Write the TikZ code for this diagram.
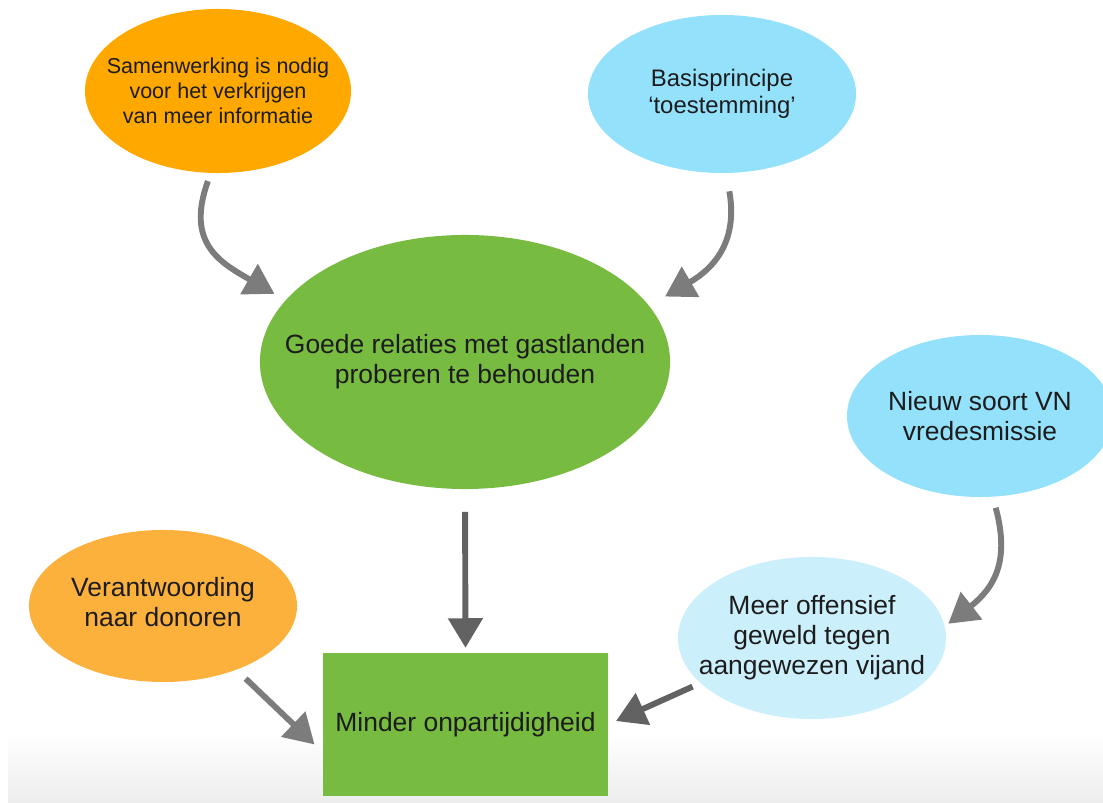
\documentclass[tikz,border=0pt]{standalone}
\usepackage{fontspec}
\setmainfont{Liberation Sans}
\usetikzlibrary{arrows.meta, shapes.geometric}

\definecolor{oranje}{RGB}{255,168,0}
\definecolor{lichtoranje}{RGB}{253,177,61}
\definecolor{blauw}{RGB}{148,225,252}
\definecolor{lichtblauw}{RGB}{204,239,252}
\definecolor{groen}{RGB}{119,187,65}
\definecolor{pijlgrijs}{RGB}{124,124,124}
\definecolor{donkergrijs}{RGB}{98,98,98}
\definecolor{tekst}{RGB}{28,28,28}

\begin{document}
\begin{tikzpicture}[x = 0.025cm, y = 0.025cm]
\tikzstyle{bubble}=[
shape = ellipse,
inner sep = 0pt]
\tikzstyle{tekstje}=[
align = center,
text = tekst,
font = \fontsize{18.8}{21.3}\selectfont]
\tikzstyle{pijl}=[
line width = 4.2pt,
draw = pijlgrijs,
-{Triangle[width = 24pt, length = 21pt]}]

\useasboundingbox (0, 0) rectangle (1103, 802);
\fill[top color = white, bottom color = black!7] (8, 0) rectangle (1103, 70);

\node[bubble, fill = oranje, minimum width = 6.65cm, minimum height = 4.1cm, label = {[tekstje, font = \fontsize{15.3}{17.8}\selectfont]center:Samenwerking is nodig\\voor het verkrijgen\\van meer informatie}] (samenwerking) at (218, 711) {};
\node[bubble, fill = blauw, minimum width = 6.7cm, minimum height = 3.95cm, label = {[tekstje, font = \fontsize{17}{19.4}\selectfont]center:Basisprincipe\\‘toestemming’}] (basis) at (722, 708) {};
\node[bubble, fill = groen, minimum width = 10.25cm, minimum height = 6.35cm, label = {[tekstje]center:Goede relaties met gastlanden\\proberen te behouden}] (goede) at (465, 440) {};
\node[bubble, fill = blauw, minimum width = 6.65cm, minimum height = 4.05cm, label = {[tekstje]center:Nieuw soort VN\\vredesmissie}] (nieuw) at (980, 386) {};
\node[bubble, fill = lichtblauw, minimum width = 6.7cm, minimum height = 4.05cm, label = {[tekstje]center:Meer offensief\\geweld tegen\\aangewezen vijand}] (meer) at (812, 164) {};
\node[bubble, fill = lichtoranje, minimum width = 6.7cm, minimum height = 3.8cm, label = {[tekstje, yshift = 3pt]center:Verantwoording\\naar donoren}] (verantwoording) at (163, 196) {};
\node[shape = rectangle, fill = groen, minimum width = 7.125cm, minimum height = 3.575cm, inner sep = 0pt, tekstje] (minder) at (465.5, 77.5) {Minder onpartijdigheid};

\draw[pijl, shorten <= 6pt, shorten >= 9pt] (samenwerking.-95) to[out = -110, in = 150, looseness = 1.3] (goede.161);
\draw[pijl, shorten <= 13pt, shorten >= 13pt] (basis.-87) to[out = -80, in = 30, looseness = 1.2] (goede.17);
\draw[pijl, draw = donkergrijs, shorten <= 16pt, shorten >= 3.5pt] (goede.south) -- (minder.north);
\draw[pijl, shorten <= 8pt, shorten >= 3pt] (nieuw.-81) to[out = -75, in = 38, looseness = 1.2] (meer.5);
\draw[pijl, draw = donkergrijs, shorten <= 6pt, shorten >= 6pt] (meer.202) -- (minder.east);
\draw[pijl, shorten <= 9pt, shorten >= 8pt] (verantwoording.-41) -- (minder.191);
\end{tikzpicture}
\end{document}
